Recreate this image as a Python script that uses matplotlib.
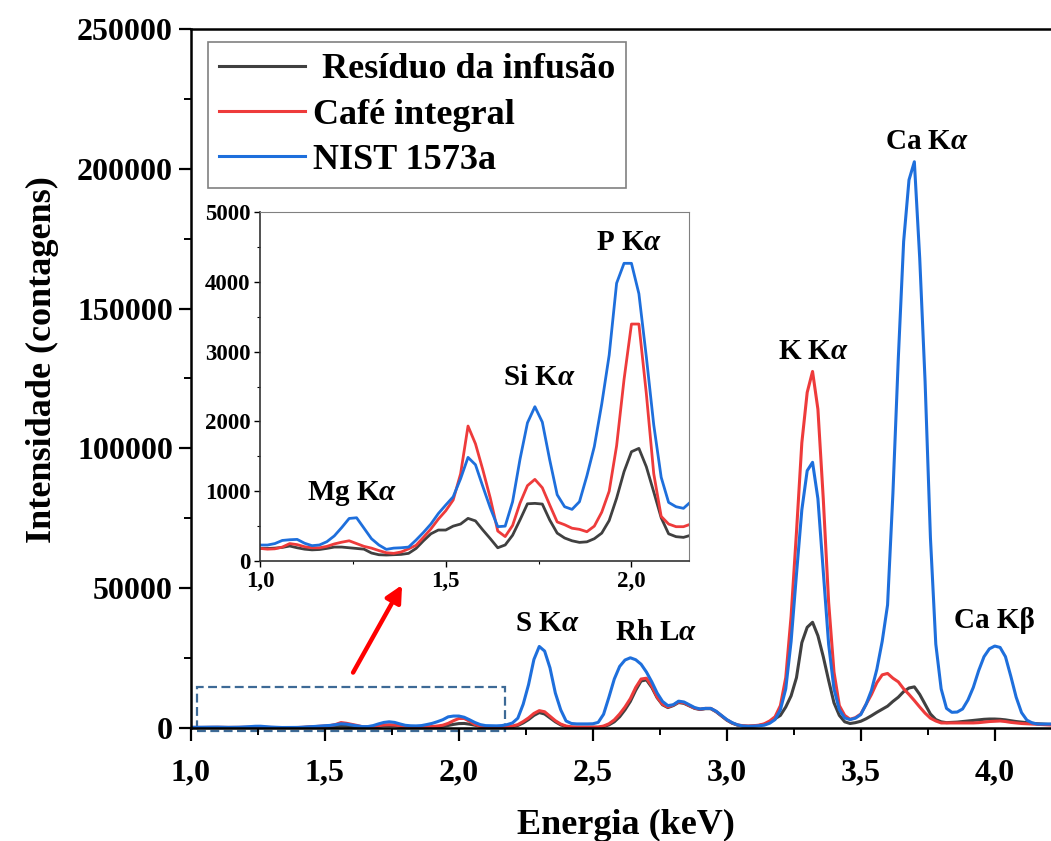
import numpy as np
import matplotlib
matplotlib.use("Agg")
import matplotlib.pyplot as plt
from matplotlib.ticker import MultipleLocator, FuncFormatter
from matplotlib.patches import Rectangle

plt.rcParams["font.family"] = "Liberation Serif"
plt.rcParams["font.weight"] = "bold"
plt.rcParams["mathtext.fontset"] = "custom"
plt.rcParams["mathtext.rm"] = "Liberation Serif:bold"
plt.rcParams["mathtext.it"] = "Liberation Serif:italic:bold"

# energy channels (keV), 0.02 keV step
energia = np.round(np.arange(1.00, 4.221, 0.02), 2)

# Residuo da infusao
residuo = [
    181, 180, 185, 195, 215, 190, 170, 160, 165, 181,
    200, 200, 190, 180, 170, 115, 90, 86, 90, 95,
    110, 180, 290, 390, 444, 444, 500, 530, 611, 575,
    444, 320, 190, 230, 370, 590, 820, 826, 816, 587,
    400, 330, 290, 267, 275, 320, 400, 580, 900, 1280,
    1566, 1614, 1351, 990, 620, 390, 349, 339, 370, 350,
    450, 900, 1800, 3000, 4500, 5500, 5000, 3600, 2200, 1100,
    500, 250, 250, 250, 250, 250, 250, 500, 1100, 2200,
    4000, 6500, 9500, 13500, 16800, 17200, 14500, 10800, 8300, 7300,
    8000, 9100, 8800, 7900, 7000, 6600, 6900, 6900, 5800, 4300,
    2800, 1700, 1000, 700, 600, 700, 900, 1300, 2000, 3300,
    4500, 7500, 11500, 18000, 30500, 36000, 37800, 33000, 25500, 17000,
    9000, 4500, 2200, 1600, 1900, 2400, 3300, 4400, 5600, 6700,
    7800, 9500, 11000, 13000, 14300, 14700, 12000, 8500, 5000, 3000,
    2200, 1900, 2000, 2100, 2300, 2500, 2700, 2900, 3100, 3200,
    3200, 3100, 2900, 2600, 2300, 2100, 1900, 1700, 1500, 1400,
    1300, 1300,
]

# Cafe integral
cafe = [
    181, 170, 175, 200, 250, 235, 205, 190, 190, 210,
    245, 270, 290, 250, 210, 185, 150, 119, 110, 130,
    175, 225, 340, 460, 600, 720, 874, 1250, 1934, 1680,
    1304, 900, 430, 350, 510, 830, 1080, 1170, 1050, 802,
    560, 520, 470, 454, 420, 500, 700, 1000, 1650, 2600,
    3395, 3395, 2400, 1250, 640, 530, 492, 492, 530, 500,
    700, 1200, 2300, 3600, 5200, 6200, 5800, 4200, 2600, 1400,
    700, 400, 300, 300, 300, 300, 300, 700, 1500, 2900,
    5000, 7500, 10500, 14500, 17500, 17800, 15000, 11000, 8500, 7500,
    8200, 9300, 9000, 8000, 7100, 6700, 7000, 7000, 5900, 4400,
    2900, 1800, 1100, 800, 700, 800, 1000, 1500, 2500, 4000,
    8000, 18000, 40000, 70000, 102000, 120000, 127500, 114000, 82000, 45000,
    20000, 8000, 4500, 3100, 3700, 5000, 8500, 12000, 16200, 19000,
    19500, 17800, 16500, 14000, 12000, 9800, 7500, 5300, 3500, 2500,
    1800, 1800, 1800, 1800, 1800, 1800, 1800, 1900, 2100, 2300,
    2400, 2500, 2300, 2000, 1800, 1600, 1500, 1400, 1300, 1200,
    1100, 1000,
]

# NIST 1573a
nist = [
    229, 229, 250, 295, 305, 310, 255, 220, 230, 277,
    360, 480, 610, 620, 470, 320, 230, 167, 185, 190,
    200, 300, 410, 530, 680, 802, 920, 1180, 1485, 1380,
    1065, 760, 492, 500, 850, 1460, 1980, 2211, 1990, 1447,
    950, 778, 740, 850, 1220, 1640, 2250, 2950, 3980, 4265,
    4265, 3830, 2927, 1950, 1200, 840, 778, 755, 850, 1200,
    1800, 3500, 8500, 15500, 24500, 29150, 27500, 21500, 12500, 6500,
    2500, 1600, 1450, 1450, 1450, 1500, 2000, 4900, 11000, 17500,
    22000, 24300, 25100, 24400, 22800, 20000, 16500, 12500, 9500, 8000,
    8300, 9600, 9300, 8300, 7300, 6800, 7000, 7000, 6000, 4500,
    3000, 1900, 1100, 700, 600, 650, 800, 1000, 1700, 3000,
    6500, 14000, 31000, 55000, 78000, 92000, 95000, 82000, 56000, 30000,
    14000, 6500, 3600, 3000, 3500, 4800, 8500, 13500, 21000, 31000,
    44000, 84000, 132000, 174000, 196000, 202500, 168000, 124000, 68000, 30000,
    14000, 7000, 5600, 5700, 6800, 10000, 14500, 20500, 25500, 28300,
    29300, 28800, 25500, 18500, 11000, 5500, 2800, 1800, 1400, 1400,
    1400, 1400,
]

series = [
    (" Resíduo da infusão", residuo, "#404040"),
    ("Café integral", cafe, "#ee3b3b"),
    ("NIST 1573a", nist, "#1e6fdc"),
]

# peak labels (main plot)
main_peaks = ["S K$\\alpha$", "Rh L$\\alpha$", "K K$\\alpha$", "Ca K$\\alpha$", "Ca Kβ"]
main_peak_x = [2.33, 2.735, 3.325, 3.746, 4.0]
main_peak_y = [37500, 34000, 134500, 209600, 38300]

# peak labels (inset)
inset_peaks = ["Mg K$\\alpha$", "Si K$\\alpha$", "P K$\\alpha$"]
inset_peak_x = [1.247, 1.753, 1.995]
inset_peak_y = [974, 2636, 4570]

comma = FuncFormatter(lambda v, p: f"{v:.1f}".replace(".", ","))

fig = plt.figure(figsize=(10.51, 8.41), dpi=100)
ax = fig.add_axes([0.1817, 0.1344, 0.8183, 0.8312])

for name, vals, col in series:
    ax.plot(energia, vals, color=col, lw=2.2, label=name)

ax.set_xlim(1.0, 4.21)
ax.set_ylim(0, 250000)
ax.xaxis.set_major_locator(MultipleLocator(0.5))
ax.xaxis.set_minor_locator(MultipleLocator(0.25))
ax.yaxis.set_major_locator(MultipleLocator(50000))
ax.yaxis.set_minor_locator(MultipleLocator(25000))
ax.xaxis.set_major_formatter(comma)
ax.tick_params(which="major", direction="out", length=9, width=1.6, labelsize=23, pad=4)
ax.tick_params(axis="x", which="major", pad=13)
ax.tick_params(which="minor", direction="out", length=5, width=1.4)
ax.spines["right"].set_visible(False)
for s in ["left", "bottom", "top"]:
    ax.spines[s].set_linewidth(1.8)

for t, x, y in zip(main_peaks, main_peak_x, main_peak_y):
    ax.text(x, y, t, fontsize=21, ha="center", va="center")

leg = ax.legend(loc="upper left", bbox_to_anchor=(0.0198, 0.981), borderaxespad=0,
                fontsize=26, fancybox=False, edgecolor="#808080", framealpha=1,
                handlelength=2.4, handletextpad=0.2, labelspacing=0.33,
                borderpad=0.3)
leg.get_frame().set_linewidth(1.2)

# dashed zoom box and arrow
ax.add_patch(Rectangle((1.021, -960), 2.172 - 1.021, 14560 + 960, fill=False,
                       edgecolor="#3d6a96", lw=1.6, ls=(0, (4, 2)), clip_on=False))
ax.annotate("", xy=(1.793, 52000), xytext=(1.6, 18950),
            arrowprops=dict(arrowstyle="-|>", color="red", lw=3.2,
                            mutation_scale=25))

fig.text(0.040, 0.572, "Intensidade (contagens)", rotation=90, fontsize=26,
         ha="center", va="center")
fig.text(0.5957, 0.019, "Energia (keV)", fontsize=26, ha="center", va="center")

# inset
ins = fig.add_axes([0.2474, 0.3329, 0.4082, 0.415])
for name, vals, col in series:
    ins.plot(energia, vals, color=col, lw=2.0)
ins.set_xlim(1.0, 2.155)
ins.set_ylim(0, 5000)
ins.xaxis.set_major_locator(MultipleLocator(0.5))
ins.xaxis.set_minor_locator(MultipleLocator(0.25))
ins.yaxis.set_major_locator(MultipleLocator(1000))
ins.yaxis.set_minor_locator(MultipleLocator(500))
ins.xaxis.set_major_formatter(comma)
ins.tick_params(which="major", direction="out", length=4, width=1.0, labelsize=16.5, pad=3)
ins.tick_params(which="minor", direction="out", length=2.5, width=0.8)
for s in ["top", "right"]:
    ins.spines[s].set_color("#808080")
for s in ["left", "bottom"]:
    ins.spines[s].set_color("#333333")
    ins.spines[s].set_linewidth(1.2)

for t, x, y in zip(inset_peaks, inset_peak_x, inset_peak_y):
    ins.text(x, y, t, fontsize=21, ha="center", va="center")

fig.savefig("out.png", dpi=100)
